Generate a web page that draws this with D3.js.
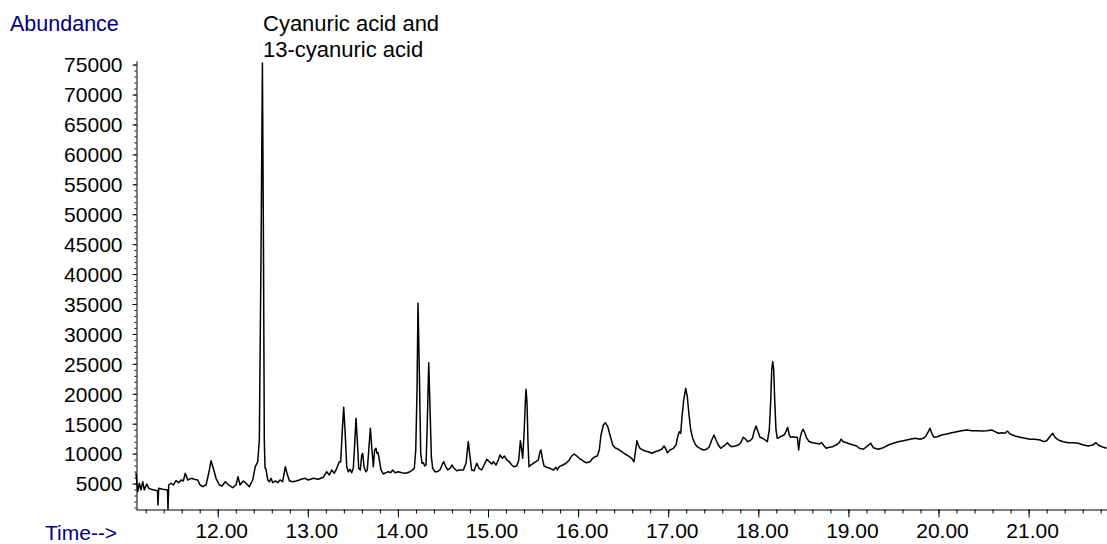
<!DOCTYPE html>
<html>
<head>
<meta charset="utf-8">
<script src="https://cdn.jsdelivr.net/npm/d3@7"></script>
<style>
  html, body { margin: 0; padding: 0; background: #ffffff; }
  svg { display: block; }
  text { font-family: "Liberation Sans", Arial, sans-serif; }
</style>
</head>
<body>
<svg id="chart" width="1107" height="544"></svg>
<script>
// ---- data ----
const retentionTime = [
  11.093, 11.112, 11.130, 11.149, 11.168, 11.185, 11.212, 11.234, 11.260, 11.296,
  11.332, 11.337, 11.345, 11.390, 11.443, 11.448, 11.456, 11.482, 11.507, 11.537,
  11.567, 11.593, 11.618, 11.640, 11.667, 11.704, 11.740, 11.778, 11.804, 11.834,
  11.870, 11.900, 11.926, 11.951, 11.981, 12.018, 12.048, 12.084, 12.122, 12.166,
  12.203, 12.225, 12.248, 12.284, 12.314, 12.351, 12.388, 12.417, 12.444, 12.462,
  12.481, 12.496, 12.508, 12.517, 12.525, 12.536, 12.555, 12.573, 12.592, 12.610,
  12.639, 12.666, 12.691, 12.721, 12.750, 12.769, 12.795, 12.832, 12.869, 12.906,
  12.925,
  12.969, 13.006, 13.061, 13.117, 13.172, 13.210, 13.239, 13.265, 13.294, 13.321,
  13.350, 13.365, 13.383, 13.398, 13.413, 13.432, 13.450, 13.468, 13.487, 13.505,
  13.521, 13.535, 13.549, 13.565, 13.583, 13.598, 13.609, 13.624, 13.643, 13.660,
  13.679, 13.694, 13.709, 13.727, 13.742, 13.757, 13.768, 13.779, 13.794, 13.812,
  13.838, 13.868, 13.893, 13.920, 13.942, 13.968, 14.004, 14.042, 14.090, 14.134,
  14.164, 14.182, 14.198, 14.212, 14.223, 14.238, 14.253, 14.268, 14.282, 14.297,
  14.312, 14.326, 14.342, 14.356, 14.371, 14.386, 14.412, 14.437, 14.467, 14.489,
  14.508, 14.531, 14.553, 14.578, 14.600, 14.623, 14.653, 14.681,
  14.726, 14.756, 14.781, 14.800, 14.819, 14.845, 14.875, 14.900, 14.930, 14.956,
  14.986, 15.014, 15.041, 15.059, 15.089, 15.114, 15.133, 15.159, 15.181, 15.208,
  15.236, 15.263, 15.289, 15.318, 15.341, 15.359, 15.374, 15.385, 15.400, 15.414,
  15.422, 15.433, 15.444, 15.455, 15.474, 15.503, 15.533, 15.558, 15.577, 15.588,
  15.603, 15.622, 15.651, 15.688, 15.725, 15.755, 15.769, 15.791, 15.829, 15.866,
  15.902, 15.929, 15.955, 15.984, 16.013, 16.040, 16.066, 16.095, 16.132, 16.162,
  16.188, 16.213, 16.235, 16.254, 16.280, 16.302, 16.329, 16.354, 16.384, 16.410,
  16.446, 16.484, 16.520, 16.557, 16.595, 16.620, 16.639, 16.653, 16.668,
  16.687, 16.717, 16.743, 16.779, 16.817, 16.854, 16.890, 16.928, 16.954, 16.976,
  16.990, 17.020, 17.057, 17.087, 17.105, 17.123, 17.139, 17.153, 17.172, 17.194,
  17.212, 17.231, 17.250, 17.272, 17.298, 17.323, 17.353, 17.390, 17.427, 17.456,
  17.483, 17.508, 17.531, 17.556, 17.583, 17.605, 17.631, 17.656, 17.678, 17.705,
  17.742, 17.778, 17.805, 17.834, 17.860, 17.882, 17.908, 17.934, 17.953, 17.975,
  17.997, 18.019, 18.049, 18.075, 18.100, 18.122, 18.138, 18.149, 18.160, 18.171,
  18.182, 18.196, 18.211, 18.233, 18.260, 18.285, 18.307, 18.326, 18.344, 18.360,
  18.382, 18.407, 18.433, 18.448, 18.463, 18.482, 18.499, 18.518, 18.537, 18.566,
  18.604, 18.641, 18.677, 18.704, 18.722, 18.752, 18.788, 18.826, 18.862, 18.899,
  18.918, 18.943, 18.981, 19.017, 19.054, 19.092, 19.121,
  19.165, 19.203, 19.248, 19.276, 19.332, 19.387, 19.443, 19.498, 19.554, 19.609,
  19.647, 19.684, 19.739, 19.795, 19.831, 19.861, 19.887, 19.906, 19.925, 19.950,
  19.987, 20.036, 20.091, 20.147, 20.202, 20.258, 20.313, 20.369, 20.424, 20.480,
  20.535, 20.591, 20.627, 20.664, 20.701, 20.738, 20.764, 20.794, 20.849, 20.905,
  20.960, 21.016, 21.071, 21.127, 21.171, 21.201, 21.230, 21.268, 21.293, 21.330,
  21.385, 21.441, 21.496, 21.552, 21.607, 21.663, 21.712, 21.748, 21.774, 21.811,
  21.866
];
const abundance = [
  6720, 3640, 5050, 3930, 5310, 3930, 4930, 4210, 4040, 3930,
  3810, 1420, 4210, 4040, 3930, 700, 4760, 5050, 4760, 5480,
  5150, 5600, 5430, 6720, 5600, 5880, 5710, 5600, 4760, 4480,
  4760, 6720, 8820, 7550, 5880, 4760, 4590, 5310, 4760, 4310,
  4760, 6150, 4760, 5430, 5050, 4480, 5600, 7820, 8650, 12280,
  44020, 75260, 44020, 12280, 7600, 7380, 5600, 5310, 5880, 5150,
  5430, 5150, 5600, 5310, 7820, 6720, 5480, 5310, 5430, 5600,
  5710,
  5880, 5600, 5880, 5710, 6050, 6980, 6430, 7270, 6720, 7550,
  8650, 8650, 13950, 17740, 13950, 7820, 6980, 7380, 6820, 7550,
  11730, 15900, 12280, 7550, 7270, 9770, 10060, 7820, 6980, 7270,
  11160, 14230, 11160, 7820, 10610, 10890, 10060, 10160, 8940, 7270,
  6600, 6820, 6980, 6820, 7270, 6820, 6980, 6820, 6720, 6980,
  7270, 7550, 10610, 20630, 35120, 23420, 10060, 8390, 8490, 7940,
  8100, 15070, 25190, 17840, 9490, 7550, 6980, 6980, 7270, 8100,
  8650, 7820, 7270, 7550, 8100, 7550, 7150, 7270,
  7270, 8390, 12000, 9490, 7270, 7150, 8390, 7550, 7270, 8100,
  9050, 8650, 8270, 8650, 8100, 8940, 9770, 9220, 9610, 8940,
  8650, 8100, 7820, 7940, 8940, 12160, 10610, 9220, 13400, 18410,
  20750, 18410, 11730, 7820, 8100, 8390, 8650, 8940, 10320, 10610,
  9220, 7940, 7720, 7550, 7270, 7720, 7270, 7820, 8100, 8390,
  8940, 9610, 9940, 9610, 9220, 8940, 8650, 8490, 8650, 9220,
  9490, 9610, 10610, 13110, 14790, 15170, 14500, 13110, 11440, 10990,
  10730, 10320, 9940, 9610, 9220, 8650, 10610, 12160, 11440,
  10890, 10610, 10440, 10320, 10060, 10320, 10490, 10730, 11280, 10730,
  10160, 10610, 10890, 11440, 12830, 13670, 13400, 16170, 18960, 20920,
  19510, 16460, 13950, 12560, 11610, 11160, 10890, 10610, 10730, 11160,
  12280, 13110, 12280, 11440, 10890, 11160, 11440, 11830, 11440, 11160,
  11280, 11440, 11830, 12730, 12400, 12000, 12160, 12560, 13670, 14620,
  13670, 12730, 12560, 12280, 12000, 13950, 18960, 23970, 25360, 23970,
  18960, 13950, 12560, 12730, 12950, 13110, 13670, 14400, 13110, 12730,
  12830, 12730, 12730, 10610, 12560, 13670, 14070, 13400, 12560, 12000,
  11830, 11730, 11610, 11830, 11440, 10890, 11060, 11160, 11440, 11830,
  12400, 12000, 11830, 11610, 11440, 11280, 10890,
  10730, 11160, 11730, 10990, 10730, 10990, 11440, 11730, 12000, 12160,
  12280, 12400, 12560, 12400, 12560, 12950, 13670, 14230, 13400, 12730,
  12830, 13110, 13280, 13500, 13670, 13830, 13950, 13830, 13830, 13780,
  13830, 13950, 13670, 13400, 13500, 13400, 13780, 13280, 12950, 12730,
  12560, 12400, 12400, 12280, 12000, 12160, 12730, 13400, 12730, 12280,
  12000, 11830, 11830, 11730, 11440, 11280, 11440, 11830, 11440, 11160,
  10890
];
const xMajorTicks = [12, 13, 14, 15, 16, 17, 18, 19, 20, 21];
const xMinorTicks = d3.range(56).map(i => +(11.2 + i * 0.2).toFixed(1)).filter(v => v <= 21.8);
const yMajorTicks = [5000, 10000, 15000, 20000, 25000, 30000, 35000, 40000, 45000, 50000, 55000, 60000, 65000, 70000, 75000];
const yMinorTicks = d3.range(1, 76).map(i => i * 1000);
const yTitle = "Abundance";
const xTitle = "Time-->";
const annotationLines = ["Cyanuric acid and", "13-cyanuric acid"];

// ---- scales ----
const x = d3.scaleLinear().domain([11.093, 21.87]).range([136, 1107]);
const y = d3.scaleLinear().domain([700, 75600]).range([509.3, 61]);

const svg = d3.select("#chart");
const navy = "#000080";

// trace
const points = retentionTime.map((t, i) => [t, abundance[i]]);
const line = d3.line().x(d => x(d[0])).y(d => y(d[1]));
svg.append("path")
  .datum(points)
  .attr("d", line)
  .attr("fill", "none")
  .attr("stroke", "#000")
  .attr("stroke-width", 1.5)
  .attr("stroke-linejoin", "round");

// x axis (minor + major)
const xAxisY = 509.5;
svg.append("g")
  .attr("transform", `translate(0,${xAxisY})`)
  .call(d3.axisBottom(x).tickValues(xMinorTicks).tickSize(4).tickSizeOuter(0).tickFormat(""))
  .call(g => g.select(".domain").attr("stroke", "#000"));
const gx = svg.append("g")
  .attr("transform", `translate(0,${xAxisY})`)
  .call(d3.axisBottom(x).tickValues(xMajorTicks).tickSize(8).tickSizeOuter(0).tickPadding(5.3).tickFormat(d3.format(".2f")));
gx.select(".domain").remove();
gx.selectAll("text")
  .attr("font-family", "'Liberation Sans', Arial, sans-serif")
  .attr("font-size", 21)
  .attr("fill", "#000")
  .attr("dx", 3.5);

// y axis (minor + major)
const yAxisX = 136.5;
svg.append("g")
  .attr("transform", `translate(${yAxisX},0)`)
  .call(d3.axisLeft(y).tickValues(yMinorTicks).tickSize(2).tickSizeOuter(0).tickFormat(""))
  .call(g => g.select(".domain").attr("stroke", "#000"));
const gy = svg.append("g")
  .attr("transform", `translate(${yAxisX},0)`)
  .call(d3.axisLeft(y).tickValues(yMajorTicks).tickSize(4).tickSizeOuter(0).tickPadding(10).tickFormat(d3.format("d")));
gy.select(".domain").remove();
gy.selectAll("text")
  .attr("font-family", "'Liberation Sans', Arial, sans-serif")
  .attr("font-size", 21)
  .attr("fill", "#000")
  .attr("dy", "0.35em");

// titles
svg.append("text")
  .attr("x", 10).attr("y", 31)
  .attr("font-size", 21.5)
  .attr("fill", navy)
  .text(yTitle);
svg.append("text")
  .attr("x", 45).attr("y", 539.5)
  .attr("font-size", 21)
  .attr("fill", navy)
  .text(xTitle);

// annotation
const ann = svg.append("text")
  .attr("x", 263).attr("y", 31)
  .attr("font-size", 22)
  .attr("fill", "#000");
ann.selectAll("tspan")
  .data(annotationLines)
  .join("tspan")
  .attr("x", 263)
  .attr("dy", (d, i) => i === 0 ? 0 : 25.7)
  .text(d => d);
</script>
</body>
</html>
